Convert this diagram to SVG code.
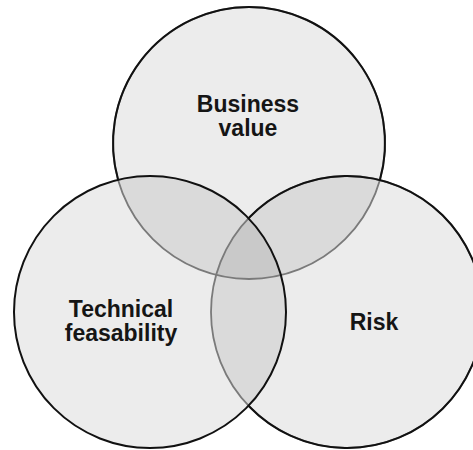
<svg xmlns="http://www.w3.org/2000/svg" width="473" height="450" viewBox="0 0 473 450">
<style>
.fill{fill:#000;fill-opacity:0.075;stroke:none}
.in{fill:none;stroke:#7a7a7a;stroke-width:1.8}
.out{fill:none;stroke:#111;stroke-width:2}
.lbl{font-family:"Liberation Sans",Arial,sans-serif;font-weight:bold;font-size:23px;fill:#151515;text-anchor:middle}
</style>
<rect width="473" height="450" fill="#fff"/>
<g id="business-value">
<circle class="fill" cx="249" cy="143" r="136"/>
</g>
<g id="risk">
<circle class="fill" cx="347" cy="312" r="136"/>
</g>
<g id="technical-feasability">
<circle class="fill" cx="150" cy="312" r="136"/>
</g>
<g id="outlines">
<circle class="in" cx="249" cy="143" r="136"/>
<circle class="in" cx="347" cy="312" r="136"/>
<path class="out" d="M118.1,179.8 A136,136 0 1 1 379.9,180.0"/>
<path class="out" d="M248.5,218.2 A136,136 0 1 1 248.5,405.8"/>
<circle class="out" cx="150" cy="312" r="136"/>
</g>
<g id="labels">
<text class="lbl" x="248" y="112">Business</text>
<text class="lbl" x="248" y="136">value</text>
<text class="lbl" x="121" y="317">Technical</text>
<text class="lbl" x="121" y="341">feasability</text>
<text class="lbl" x="374" y="330">Risk</text>
</g>
</svg>
